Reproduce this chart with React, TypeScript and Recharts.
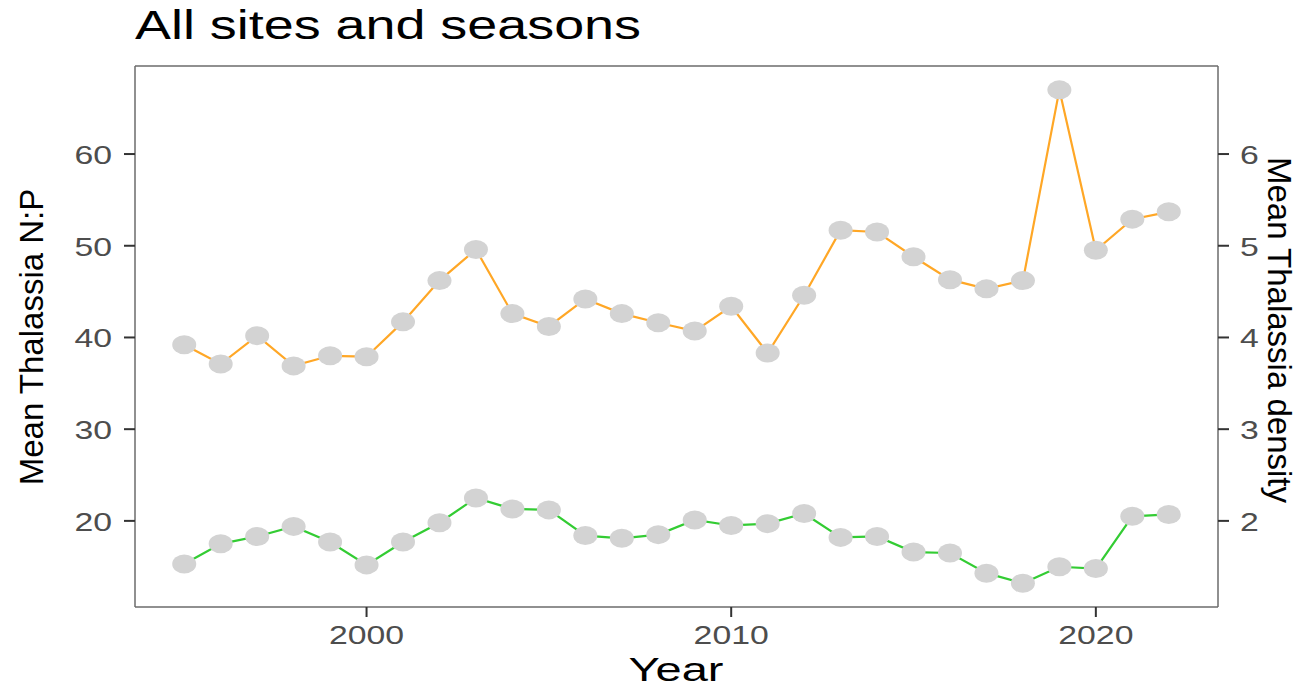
import { ComposedChart, Line, XAxis, YAxis, ReferenceLine } from "recharts";

const years = [
  1995, 1996, 1997, 1998, 1999, 2000, 2001, 2002, 2003, 2004, 2005, 2006, 2007, 2008,
  2009, 2010, 2011, 2012, 2013, 2014, 2015, 2016, 2017, 2018, 2019, 2020, 2021, 2022,
];
// Mean Thalassia N:P (left axis)
const npValues = [
  39.2, 37.1, 40.2, 36.9, 38.0, 37.9, 41.7, 46.2, 49.6, 42.6, 41.2, 44.2, 42.6, 41.6,
  40.7, 43.4, 38.3, 44.6, 51.7, 51.5, 48.8, 46.3, 45.3, 46.2, 67.0, 49.5, 52.9, 53.7,
];
// Mean Thalassia density (right axis)
const densityValues = [
  1.53, 1.75, 1.83, 1.94, 1.77, 1.52, 1.77, 1.98, 2.25, 2.13, 2.12, 1.84, 1.81, 1.85,
  2.01, 1.95, 1.97, 2.08, 1.82, 1.83, 1.66, 1.65, 1.43, 1.32, 1.5, 1.48, 2.05, 2.07,
];
const xTicks = [2000, 2010, 2020];
const leftTicks = [20, 30, 40, 50, 60];
const rightTicks = [2, 3, 4, 5, 6];

const rows = years.map((year, i) => ({
  year,
  np: npValues[i],
  density: densityValues[i],
}));

const FONT = '"Liberation Sans", Arial, Helvetica, sans-serif';
const SX = 1.3;
const xDomain = [1993.65, 2023.35];
const leftDomain = [10.61, 69.6];
const rightDomain = [1.061, 6.96];

function GrayDot(props: any) {
  const { cx, cy } = props;
  if (cx == null || cy == null) return null;
  return <ellipse cx={cx} cy={cy} rx={12} ry={9.5} fill="#d3d3d3" />;
}

function BottomTick({ x, y, payload }: any) {
  return (
    <g transform={`translate(${x},${y}) scale(${SX},1)`}>
      <text x={0} y={0} dy={20} textAnchor="middle" fontSize={26} fill="#4d4d4d" fontFamily={FONT}>
        {payload.value}
      </text>
    </g>
  );
}

function LeftTick({ x, y, payload }: any) {
  return (
    <g transform={`translate(${x - 1},${y}) scale(${SX},1)`}>
      <text x={0} y={0} dy={10} textAnchor="end" fontSize={26} fill="#4d4d4d" fontFamily={FONT}>
        {payload.value}
      </text>
    </g>
  );
}

function RightTick({ x, y, payload }: any) {
  return (
    <g transform={`translate(${x},${y}) scale(${SX},1)`}>
      <text x={0} y={0} dy={10} textAnchor="start" fontSize={26} fill="#4d4d4d" fontFamily={FONT}>
        {payload.value}
      </text>
    </g>
  );
}

export default function App() {
  const border = { stroke: "#6b6b6b", strokeWidth: 1.5 };
  const tickLine = { stroke: "#333333", strokeWidth: 2 };
  return (
    <div style={{ position: "absolute", left: 0, top: 0, width: 1307, height: 687, background: "#fff" }}>
      <ComposedChart
        width={1307}
        height={687}
        data={rows}
        margin={{ top: 66, right: 0, bottom: 0, left: 0 }}
      >
        <XAxis
          dataKey="year"
          type="number"
          domain={xDomain}
          ticks={xTicks}
          allowDataOverflow
          height={80}
          tickSize={10}
          tickMargin={7}
          axisLine={border}
          tickLine={tickLine}
          tick={<BottomTick />}
        />
        <YAxis
          yAxisId="left"
          domain={leftDomain}
          ticks={leftTicks}
          allowDataOverflow
          width={135}
          tickSize={11}
          tickMargin={11}
          axisLine={border}
          tickLine={tickLine}
          tick={<LeftTick />}
        />
        <YAxis
          yAxisId="right"
          orientation="right"
          domain={rightDomain}
          ticks={rightTicks}
          allowDataOverflow
          width={89}
          tickSize={11}
          tickMargin={11}
          axisLine={border}
          tickLine={tickLine}
          tick={<RightTick />}
        />
        {/* top edge of the panel border */}
        <ReferenceLine yAxisId="left" y={leftDomain[1]} stroke="#6b6b6b" strokeWidth={1.5} />
        <Line
          yAxisId="left"
          dataKey="np"
          stroke="none"
          dot={<GrayDot />}
          activeDot={false}
          isAnimationActive={false}
        />
        <Line
          yAxisId="right"
          dataKey="density"
          stroke="none"
          dot={<GrayDot />}
          activeDot={false}
          isAnimationActive={false}
        />
        <Line
          yAxisId="left"
          dataKey="np"
          stroke="#ffa726"
          strokeWidth={2.2}
          dot={false}
          activeDot={false}
          isAnimationActive={false}
        />
        <Line
          yAxisId="right"
          dataKey="density"
          stroke="#33cc33"
          strokeWidth={2.2}
          dot={false}
          activeDot={false}
          isAnimationActive={false}
        />
      </ComposedChart>
      <svg
        width={1307}
        height={687}
        style={{ position: "absolute", left: 0, top: 0, pointerEvents: "none" }}
      >
        <text x={135} y={39} fontSize={40} fontFamily={FONT} fill="#000" textLength={506} lengthAdjust="spacingAndGlyphs">
          All sites and seasons
        </text>
        <text x={676} y={681} fontSize={34} fontFamily={FONT} fill="#000" textAnchor="middle" textLength={95} lengthAdjust="spacingAndGlyphs">
          Year
        </text>
        <text
          x={43}
          y={337}
          fontSize={33}
          fontFamily={FONT}
          fill="#000"
          textAnchor="middle"
          transform="rotate(-90, 43, 337)"
        >
          Mean Thalassia N:P
        </text>
        <text
          x={1268}
          y={330}
          fontSize={33}
          fontFamily={FONT}
          fill="#000"
          textAnchor="middle"
          transform="rotate(90, 1268, 330)"
        >
          Mean Thalassia density
        </text>
      </svg>
    </div>
  );
}
